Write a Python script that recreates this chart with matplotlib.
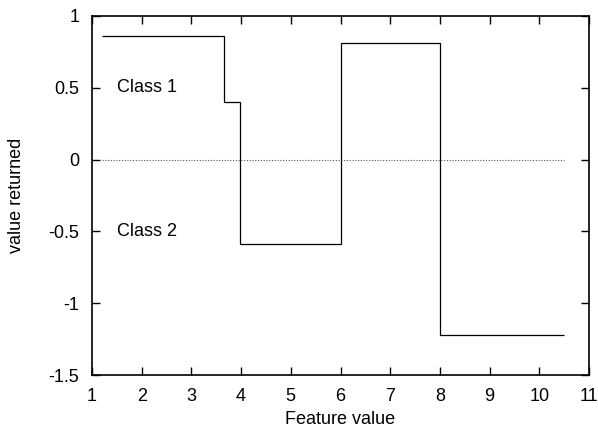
import matplotlib
matplotlib.use('Agg')
import matplotlib.pyplot as plt

# step function data
edges = [1.2, 3.65, 3.98, 6.02, 8.0, 10.5]
levels = [0.86, 0.40, -0.59, 0.81, -1.22]

x_ticks = [1, 2, 3, 4, 5, 6, 7, 8, 9, 10, 11]
y_ticks = [-1.5, -1, -0.5, 0, 0.5, 1]
y_tick_labels = ['-1.5', '-1', '-0.5', '0', '0.5', '1']

class_labels = ['Class 1', 'Class 2']
class_label_y = [0.5, -0.5]

plt.rcParams['font.family'] = ['Liberation Sans', 'DejaVu Sans']
plt.rcParams['axes.unicode_minus'] = False

fig = plt.figure(figsize=(5.98, 4.30), dpi=100)
ax = fig.add_axes([0.1538, 0.1279, 0.8312, 0.8349])

# zero line, dotted
ax.plot([edges[0], edges[-1]], [0, 0], color='#555555', linestyle=(0, (1, 1.5)), linewidth=0.8)

# the returned value
ax.stairs(levels, edges, baseline=None, color='black', linewidth=0.9)

for lab, yv in zip(class_labels, class_label_y):
    ax.text(1.5, yv, lab, fontsize=13, va='center', ha='left')

ax.set_xlim(1, 11)
ax.set_ylim(-1.5, 1)
ax.set_xticks(x_ticks)
ax.set_yticks(y_ticks)
ax.set_yticklabels(y_tick_labels)
ax.tick_params(direction='in', length=6, width=1, labelsize=13, top=True, right=True, pad=9)
for s in ax.spines.values():
    s.set_linewidth(1.2)

ax.set_xlabel('Feature value', fontsize=13, labelpad=5)
ax.set_ylabel('value returned', fontsize=13, labelpad=17)

fig.savefig('out.png', dpi=100)
